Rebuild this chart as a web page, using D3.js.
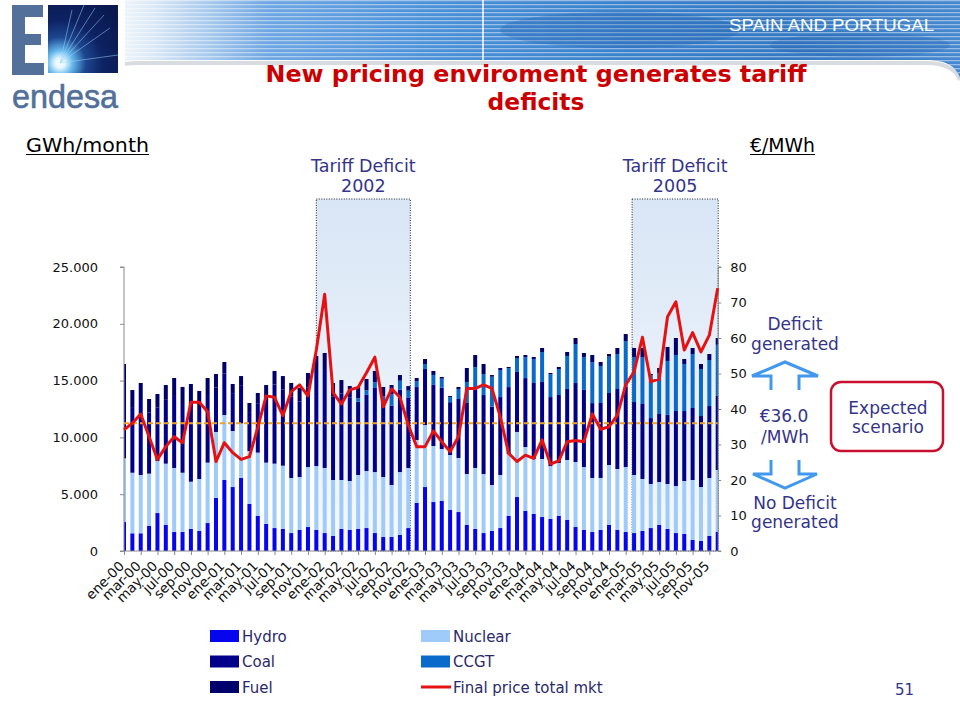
<!DOCTYPE html>
<html><head><meta charset="utf-8">
<script src="https://cdn.jsdelivr.net/npm/d3@7"></script>
<style>body{margin:0;background:#fff} svg{display:block}</style>
</head><body>
<svg id="c" width="960" height="720"></svg>
<script>
// ---------- DATA ----------
const monthNames = ["ene","feb","mar","abr","may","jun","jul","ago","sep","oct","nov","dic"];
const years = ["00","01","02","03","04","05"];
const months = years.flatMap(y => monthNames.map(m => m + "-" + y));
const seriesNames = ["Hydro","Nuclear","Coal","CCGT","Fuel"];
// GWh/month
const hydro = [2550,1560,1560,2230,3340,2290,1670,1670,1940,1760,2460,4670,
  6250,5630,6430,4140,3080,2380,2020,1940,1580,1850,2110,1850,
  1580,1320,1940,1850,1940,2020,1580,1230,1230,1410,2020,4230,
  5630,4310,4400,3610,3430,2290,1940,1580,1760,2020,3080,4750,
  3520,3260,2990,2820,3080,2730,2110,1850,1670,1850,2290,1850,
  1670,1580,1760,2020,2290,1940,1580,1500,970,880,1320,1700];
const nuclear = [5610,5330,5130,4580,4580,5400,5640,5220,4160,4580,5320,5810,
  5720,4930,4810,4660,5580,5400,5670,5570,4850,4660,5280,5630,
  5730,4930,4310,4310,4750,5020,5370,5280,4580,5540,5290,5540,
  5460,4930,4580,4840,4760,4490,5370,5200,4050,4670,5460,5730,
  5630,4840,5110,4660,4670,5280,5720,5540,4760,4580,5280,5370,
  5720,5110,4580,3880,3780,3960,4140,4660,5280,4750,5110,5430];
const coal = [6800,5780,6600,5370,4700,5620,6420,6050,7100,6250,5950,3900,
  3670,3340,3360,3430,4350,5830,6960,6690,7160,6640,6980,8190,
  8620,7340,7600,7360,6450,6700,7400,6530,7000,7240,6210,4660,
  4930,5380,5400,4650,5190,6250,6860,6950,6890,6860,5890,5280,
  6070,6690,6780,6070,5980,6260,6960,6790,6590,6600,6340,7040,
  7090,6430,6600,5800,5990,6080,6600,6160,6340,6250,6330,6520];
const ccgt = [0,0,0,0,0,0,0,0,0,0,0,0,
  0,0,0,0,0,0,0,0,0,0,0,0,
  0,0,0,0,300,400,500,600,1000,800,600,500,
  440,880,790,440,880,1850,2020,1850,2640,2380,1670,1230,
  1850,2110,2640,2020,2290,2900,3430,2900,3610,3260,3200,3080,
  4000,3960,4140,3780,3580,4750,4930,4140,4750,4140,4050,4500];
const fuel = [1500,1500,1500,1200,1200,1300,1500,1500,1500,1500,1500,1200,
  1000,800,800,800,900,1000,1200,1200,1200,1200,1300,1500,
  1500,1200,1200,1000,1000,1000,1000,800,800,500,400,300,
  440,350,150,100,180,1230,1060,880,150,180,100,180,
  180,180,350,100,180,350,530,350,620,350,230,530,
  620,790,790,100,470,1230,1500,440,530,440,530,600];
// €/MWh
const finalPrice = [34.1,36.0,38.6,32.2,25.8,29.4,32.2,30.5,41.9,41.9,39.2,25.2,
  30.5,27.7,25.8,26.6,34.8,43.7,43.3,38.1,44.9,46.8,43.7,56.6,
  72.3,44.6,41.4,45.4,46.1,50.2,54.6,40.6,45.7,43.3,35.5,29.4,
  29.4,33.8,30.8,28.0,32.2,45.8,45.8,46.8,45.8,37.8,27.5,25.2,
  27.0,26.1,31.3,24.5,25.4,30.8,31.1,30.8,38.6,34.3,35.0,38.3,
  46.8,50.5,60.2,47.7,48.4,66.0,70.2,56.6,61.5,56.1,60.8,74.0];
const leftTicks = [0,5000,10000,15000,20000,25000];
const rightTicks = [0,10,20,30,40,50,60,70,80];
const referencePrice = 36.0;
const deficitPeriods = [
  {label:"2002", from:"dic-01", to:"nov-02"},
  {label:"2005", from:"feb-05", to:"dic-05"}
];

// ---------- CHART ----------
const svg = d3.select("#c");
const defs = svg.append("defs");
const FONT = "DejaVu Sans, Verdana, sans-serif";
const TXT = "#34348a";

// Banner
const bg = defs.append("linearGradient").attr("id","bannerGrad")
  .attr("gradientUnits","userSpaceOnUse").attr("x1",95).attr("x2",960).attr("y1",0).attr("y2",0);
[[0,"#ffffff"],[0.07,"#d8e7f6"],[0.2,"#6ea6e2"],[0.4,"#4a90d8"],[0.6,"#3b82cc"],[0.8,"#3478c2"],[1,"#4688cf"]]
  .forEach(([o,c]) => bg.append("stop").attr("offset",o).attr("stop-color",c));
const pat = defs.append("pattern").attr("id","stripes").attr("patternUnits","userSpaceOnUse")
  .attr("width",10).attr("height",4);
pat.append("rect").attr("width",10).attr("height",1.3).attr("fill","#ffffff").attr("opacity",0.45);
const bannerPath = "M98,0 H960 V78 C956,66 946,60 926,60 H140 C120,60 108,66 101,76 Z";
svg.append("path").attr("d","M100,62 C110,68 122,63 140,63 H926 C946,63 956,69 960,80").attr("fill","none")
  .attr("stroke","#c8ccd2").attr("stroke-width",4).attr("opacity",0.7);
svg.append("path").attr("d",bannerPath).attr("fill","url(#bannerGrad)");
svg.append("path").attr("d",bannerPath).attr("fill","url(#stripes)");
svg.append("ellipse").attr("cx",620).attr("cy",30).attr("rx",120).attr("ry",18).attr("fill","#1f5aa8").attr("opacity",0.25);
svg.append("ellipse").attr("cx",860).attr("cy",45).attr("rx",90).attr("ry",12).attr("fill","#1f5aa8").attr("opacity",0.2);
svg.append("line").attr("x1",483).attr("x2",483).attr("y1",0).attr("y2",60).attr("stroke","#ffffff").attr("stroke-width",1.5);
svg.append("text").attr("x",934).attr("y",31).attr("text-anchor","end")
  .attr("font-family","Liberation Sans Narrow, Arial Narrow, sans-serif").attr("font-size",17)
  .attr("fill","#ffffff").attr("textLength",205).attr("lengthAdjust","spacingAndGlyphs").text("SPAIN AND PORTUGAL");

// Logo
svg.append("rect").attr("x",0).attr("y",0).attr("width",125).attr("height",118).attr("fill","#ffffff");
const rg = defs.append("radialGradient").attr("id","burst").attr("gradientUnits","userSpaceOnUse")
  .attr("cx",60).attr("cy",63).attr("r",72);
[[0,"#ffffff"],[0.07,"#e4f7ff"],[0.18,"#62b6ea"],[0.36,"#1d4690"],[0.6,"#0d2262"],[1,"#0a1a50"]]
  .forEach(([o,c]) => rg.append("stop").attr("offset",o).attr("stop-color",c));
svg.append("rect").attr("x",48).attr("y",5).attr("width",70).attr("height",68).attr("fill","url(#burst)");
[[95,8],[110,28],[118,55],[84,5],[72,10],[104,15]].forEach(([tx,ty]) =>
  svg.append("line").attr("x1",60).attr("y1",63).attr("x2",tx).attr("y2",ty)
    .attr("stroke","#9fd8ff").attr("stroke-width",1).attr("opacity",0.5));
svg.append("path").attr("d","M12,5 H43 V17 H25 V34 H41 V45 H25 V63 H44 V75 H12 Z").attr("fill","#52709a");
svg.append("text").attr("x",12).attr("y",108).attr("font-family","Liberation Sans, Arial, sans-serif")
  .attr("font-size",33).attr("fill","#52709a").attr("stroke","#52709a").attr("stroke-width",0.6)
  .attr("textLength",106).attr("lengthAdjust","spacingAndGlyphs").text("endesa");

// Title
const titleFont = "DejaVu Sans Condensed, DejaVu Sans, sans-serif";
svg.append("text").attr("x",536).attr("y",82).attr("text-anchor","middle").attr("font-family",titleFont)
  .attr("font-weight","bold").attr("font-size",23).attr("fill","#cc0000")
  .attr("textLength",541).attr("lengthAdjust","spacingAndGlyphs").text("New pricing enviroment generates tariff");
svg.append("text").attr("x",536).attr("y",110).attr("text-anchor","middle").attr("font-family",titleFont)
  .attr("font-weight","bold").attr("font-size",23).attr("fill","#cc0000")
  .attr("textLength",97).attr("lengthAdjust","spacingAndGlyphs").text("deficits");

// Scales
const pL = 124, pR = 717.7, pT = 267, pB = 551;
const x = d3.scalePoint().domain(months).range([pL, pR]);
const yL = d3.scaleLinear().domain([0,25000]).range([pB, pT]);
const yR = d3.scaleLinear().domain([0,80]).range([pB, pT]);
const barW = 4;

// Deficit periods
const sg = defs.append("linearGradient").attr("id","shade").attr("x1",0).attr("x2",0).attr("y1",0).attr("y2",1);
sg.append("stop").attr("offset",0).attr("stop-color","#d9e6f6");
sg.append("stop").attr("offset",1).attr("stop-color","#f6f9fd");
const periodTop = 199;
deficitPeriods.forEach(p => {
  const x0 = x(p.from) - (p.label === "2005" ? 2 : 0), x1 = x(p.to) + (p.label === "2005" ? 0.5 : 2);
  svg.append("rect").attr("x",x0).attr("y",periodTop).attr("width",x1-x0).attr("height",pB-periodTop)
    .attr("fill","url(#shade)").attr("stroke","#222").attr("stroke-width",1).attr("stroke-dasharray","1,1.5");
  const cx = (x0+x1)/2;
  svg.append("text").attr("x",cx).attr("y",172).attr("text-anchor","middle").attr("font-family",FONT)
    .attr("font-size",17.5).attr("fill",TXT).text("Tariff Deficit");
  svg.append("text").attr("x",cx).attr("y",192).attr("text-anchor","middle").attr("font-family",FONT)
    .attr("font-size",17.5).attr("fill",TXT).text(p.label);
});

// Bars
defs.append("clipPath").attr("id","plotClip").append("rect")
  .attr("x",pL).attr("y",pT-20).attr("width",pR-pL+0.3).attr("height",pB-pT+20);
const table = months.map((m,i) => ({month:m, Hydro:hydro[i], Nuclear:nuclear[i], Coal:coal[i], CCGT:ccgt[i], Fuel:fuel[i]}));
const stacked = d3.stack().keys(seriesNames)(table);
const color = d3.scaleOrdinal().domain(seriesNames).range(["#0505ee","#9fcbfb","#000089","#0a6acc","#00006c"]);
svg.append("g").attr("clip-path","url(#plotClip)")
  .selectAll("g").data(stacked).join("g").attr("fill", d => color(d.key))
  .selectAll("rect").data(d => d).join("rect")
  .attr("x", d => x(d.data.month) - barW/2).attr("width", barW)
  .attr("y", d => yL(d[1])).attr("height", d => yL(d[0]) - yL(d[1]));

// Axes
const fmt = d => d === 0 ? "0" : d3.format(",")(d).replace(/,/g,".");
const axL = svg.append("g").attr("transform",`translate(${pL},0)`)
  .call(d3.axisLeft(yL).tickValues(leftTicks).tickFormat(fmt).tickSize(4).tickPadding(22));
const axR = svg.append("g").attr("transform",`translate(${pR+0.5},0)`)
  .call(d3.axisRight(yR).tickValues(rightTicks).tickSize(3).tickPadding(9));
const axB = svg.append("g").attr("transform",`translate(0,${pB})`)
  .call(d3.axisBottom(x).tickValues(months.filter((d,i) => i % 2 === 0)).tickSize(4).tickFormat(""));
[axL, axR, axB].forEach(a => {
  a.select(".domain").attr("stroke","#8a8a8a");
  a.selectAll(".tick line").attr("stroke","#8a8a8a");
  a.selectAll("text").attr("font-family",FONT).attr("font-size",13).attr("fill","#111");
});
axL.select(".domain").attr("d",`M-4,${pT}H0V${pB}H-4`);
axR.select(".domain").attr("d",`M3,${pT}H0V${pB}H3`);
axB.select(".domain").attr("d",`M${pL},0H${pR}`);
svg.append("g").selectAll("text").data(months.filter((d,i) => i % 2 === 0)).join("text")
  .attr("transform", d => `translate(${x(d)+1},${pB+16}) rotate(-45)`)
  .attr("text-anchor","end").attr("font-family",FONT).attr("font-size",13.5).attr("fill","#111").text(d => d);

// Reference price line
svg.append("line").attr("x1",pL).attr("x2",pR).attr("y1",yR(referencePrice)).attr("y2",yR(referencePrice))
  .attr("stroke","#f3a21c").attr("stroke-width",2).attr("stroke-dasharray","5,3");

// Price line
svg.append("path").datum(finalPrice)
  .attr("d", d3.line().x((d,i) => x(months[i])).y(d => yR(d)))
  .attr("fill","none").attr("stroke","#e41212").attr("stroke-width",3).attr("stroke-linejoin","round");

// Unit labels
svg.append("text").attr("x",26).attr("y",152).attr("font-family",FONT).attr("font-size",19).attr("fill","#000")
  .attr("textLength",123).attr("lengthAdjust","spacingAndGlyphs").text("GWh/month");
svg.append("line").attr("x1",26).attr("x2",149).attr("y1",154.5).attr("y2",154.5).attr("stroke","#000").attr("stroke-width",1.2);
svg.append("text").attr("x",750).attr("y",152).attr("font-family",FONT).attr("font-size",19).attr("fill","#000")
  .attr("textLength",65).attr("lengthAdjust","spacingAndGlyphs").text("€/MWh");
svg.append("line").attr("x1",750).attr("x2",815).attr("y1",154.5).attr("y2",154.5).attr("stroke","#000").attr("stroke-width",1.2);

// Right annotations
const ann = (t, xx, yy) => svg.append("text").attr("x",xx).attr("y",yy).attr("text-anchor","middle")
  .attr("font-family",FONT).attr("font-size",17).attr("fill",TXT).text(t);
ann("Deficit", 795, 330); ann("generated", 795, 350);
ann("€36.0", 784, 422); ann("/MWh", 785, 443);
ann("No Deficit", 795, 509); ann("generated", 795, 528);
svg.append("polyline").attr("points","771,390 771,376 752,376 785,362 818,376 799,376 799,390")
  .attr("fill","none").attr("stroke","#4298ee").attr("stroke-width",3).attr("stroke-linejoin","miter");
svg.append("polyline").attr("points","771,460 771,474 753,474 785,488 817,474 799,474 799,460")
  .attr("fill","none").attr("stroke","#4298ee").attr("stroke-width",3).attr("stroke-linejoin","miter");
svg.append("rect").attr("x",831).attr("y",382).attr("width",112).attr("height",69).attr("rx",10)
  .attr("fill","#fff").attr("stroke","#c8102e").attr("stroke-width",2.5);
ann("Expected", 888, 414); ann("scenario", 888, 433);

// Legend
const legendItems = [
  {name:"Hydro", col:0, row:0, type:"rect"}, {name:"Nuclear", col:1, row:0, type:"rect"},
  {name:"Coal", col:0, row:1, type:"rect"}, {name:"CCGT", col:1, row:1, type:"rect"},
  {name:"Fuel", col:0, row:2, type:"rect"}, {name:"Final price total mkt", col:1, row:2, type:"line"}
];
const lg = svg.append("g");
legendItems.forEach(it => {
  const lx = it.col === 0 ? 210 : 421, ly = 636 + it.row * 25.5;
  if (it.type === "rect") lg.append("rect").attr("x",lx).attr("y",ly-6).attr("width",29).attr("height",12).attr("fill",color(it.name));
  else lg.append("line").attr("x1",lx).attr("x2",lx+30).attr("y1",ly).attr("y2",ly).attr("stroke","#e41212").attr("stroke-width",3);
  lg.append("text").attr("x",lx+32).attr("y",ly+5.5).attr("font-family",FONT).attr("font-size",15).attr("fill","#2a2a6a").text(it.name);
});
svg.append("text").attr("x",914).attr("y",695).attr("text-anchor","end").attr("font-family",FONT)
  .attr("font-size",15).attr("fill",TXT).text("51");
</script>
</body></html>
